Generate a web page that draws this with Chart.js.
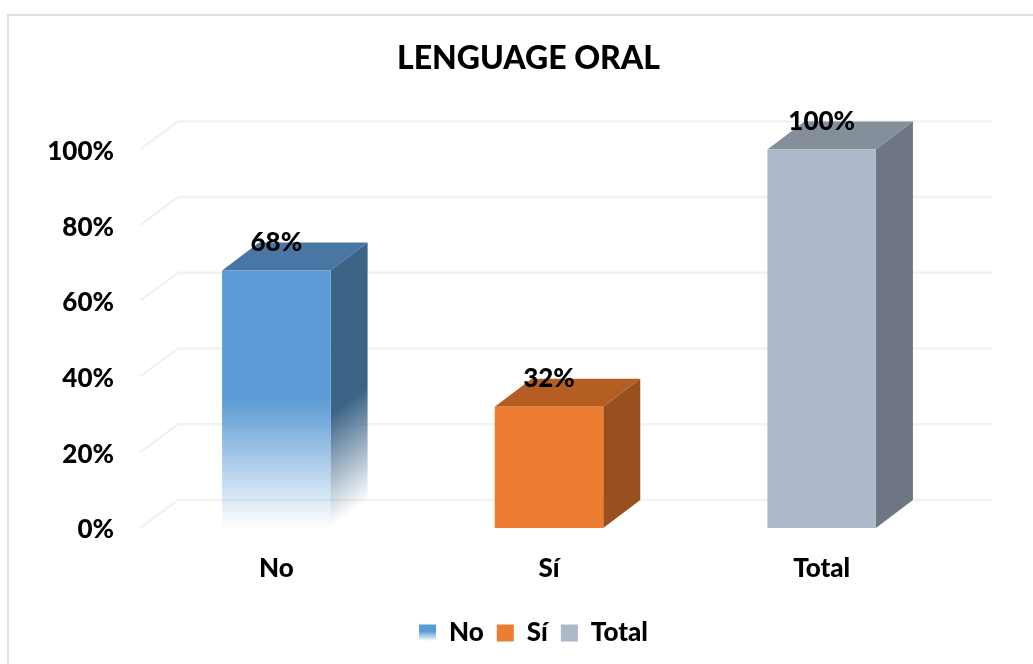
<!DOCTYPE html>
<html>
<head>
<meta charset="utf-8">
<title>Lenguage oral</title>
<script src="https://cdn.jsdelivr.net/npm/chart.js@4"></script>
<style>
    html, body { margin: 0; padding: 0; background: #fff; }
    body { width: 1033px; height: 664px; overflow: hidden; position: relative; }
    #frame { position: absolute; left: 7px; top: 14px; width: 1040px; height: 660px; border: 2px solid #e0e0e0; }
    #graf { position: absolute; left: 0; top: 0; }
</style>
</head>
<body>
<div id="frame"></div>
<canvas id="graf" width="1033" height="664"></canvas>
<script>
const categories = ["No", "Sí", "Total"];
const values = [68, 32, 100];
const yTicks = [0, 20, 40, 60, 80, 100];

const frontColors = ["#5B9BD5", "#ED7D31", "#ADB9CA"];
const topColors = ["#4A76A3", "#B55E24", "#858F9C"];
const sideColors = ["#3C6487", "#98501E", "#6E7683"];

// depth of the fake 3D box
const depthX = 37;
const depthY = -28;
const fontName = "Lato, sans-serif";

function frontFill(context) {
    const chart = context.chart;
    const i = context.dataIndex;
    if (i !== 0 || !chart.chartArea) return frontColors[i];
    const y = chart.scales.y;
    const g = chart.ctx.createLinearGradient(0, y.getPixelForValue(34), 0, y.getPixelForValue(0));
    g.addColorStop(0, "rgba(91,155,213,1)");
    g.addColorStop(1, "rgba(91,155,213,0)");
    return g;
}

const box3d = {
    id: "box3d",
    afterLayout(chart) {
        // legend sits a little right of the middle in the picture
        chart.legend.left += 5;
        chart.legend.right += 5;
    },
    beforeDatasetsDraw(chart) {
        const c = chart.ctx;
        const y = chart.scales.y;
        const a = chart.chartArea;

        // back wall lines and the short diagonals
        c.save();
        c.strokeStyle = "#f2f2f2";
        c.lineWidth = 2.5;
        yTicks.forEach(function(t) {
            const py = y.getPixelForValue(t);
            c.beginPath();
            c.moveTo(a.left, py);
            c.lineTo(a.left + depthX + 1, py + depthY);
            c.lineTo(a.right + depthX - 3, py + depthY);
            c.stroke();
        });

        chart.getDatasetMeta(0).data.forEach(function(bar, i) {
            const half = bar.width / 2;
            const l = bar.x - half;
            const r = bar.x + half;
            const t = bar.y;
            const b = bar.base;

            c.fillStyle = topColors[i];
            c.beginPath();
            c.moveTo(l, t);
            c.lineTo(l + depthX, t + depthY);
            c.lineTo(r + depthX, t + depthY);
            c.lineTo(r, t);
            c.closePath();
            c.fill();

            if (i === 0) {
                const mx = r + depthX / 2;
                const my = b + depthY / 2;
                const g = c.createLinearGradient(mx - 84, my - 111, mx, my);
                g.addColorStop(0, "rgba(60,100,135,1)");
                g.addColorStop(0.35, "rgba(60,100,135,1)");
                g.addColorStop(1, "rgba(60,100,135,0)");
                c.fillStyle = g;
            } else {
                c.fillStyle = sideColors[i];
            }
            c.beginPath();
            c.moveTo(r, t);
            c.lineTo(r + depthX, t + depthY);
            c.lineTo(r + depthX, b + depthY);
            c.lineTo(r, b);
            c.closePath();
            c.fill();
        });
        c.restore();
    },
    afterDatasetsDraw(chart) {
        const c = chart.ctx;
        c.save();
        c.fillStyle = "#000";
        c.font = "900 26px " + fontName;
        c.textAlign = "center";
        c.textBaseline = "middle";
        chart.getDatasetMeta(0).data.forEach(function(bar, i) {
            c.fillText(values[i] + "%", bar.x, bar.y + depthY);
        });
        c.restore();
    }
};

document.addEventListener("DOMContentLoaded", function() {
    const ctx = document.getElementById("graf").getContext("2d");
    new Chart(ctx, {
        type: "bar",
        data: {
            labels: categories,
            datasets: [{
                data: values,
                backgroundColor: frontFill,
                barPercentage: 0.398,
                categoryPercentage: 1
            }]
        },
        plugins: [box3d],
        options: {
            responsive: false,
            animation: false,
            layout: { padding: { left: 24, bottom: 8 } },
            scales: {
                x: {
                    grid: { display: false },
                    border: { display: false },
                    ticks: { color: "#000", font: { family: fontName, size: 26, weight: "900" }, padding: 17 },
                    afterFit(s) { s.height = 79; }
                },
                y: {
                    min: 0,
                    max: 100,
                    afterBuildTicks(s) { s.ticks = yTicks.map(function(v) { return { value: v }; }); },
                    grid: { display: false },
                    border: { display: false },
                    ticks: {
                        color: "#000",
                        font: { family: fontName, size: 26, weight: "900" },
                        padding: 18,
                        labelOffset: 2,
                        callback: function(v) { return v + "%"; }
                    },
                    afterFit(s) { s.width = 116; }
                },
                // empty axis, only reserves the room right of the bars
                spacer: {
                    position: "right",
                    display: true,
                    grid: { display: false },
                    border: { display: false },
                    ticks: { display: false },
                    afterFit(s) { s.width = 75; }
                }
            },
            plugins: {
                title: {
                    display: true,
                    text: "LENGUAGE ORAL",
                    color: "#000",
                    font: { family: fontName, size: 32, weight: "900" },
                    padding: { top: 39, bottom: 72 }
                },
                legend: {
                    position: "bottom",
                    labels: {
                        color: "#000",
                        font: { family: fontName, size: 26, weight: "900" },
                        boxWidth: 17,
                        boxHeight: 17,
                        padding: 13,
                        generateLabels(chart) {
                            const g = chart.ctx.createLinearGradient(0, 623, 0, 641);
                            g.addColorStop(0, "#5B9BD5");
                            g.addColorStop(0.45, "#5B9BD5");
                            g.addColorStop(1, "#FFFFFF");
                            return categories.map(function(name, i) {
                                return {
                                    text: name,
                                    fontColor: "#000",
                                    fillStyle: i === 0 ? g : frontColors[i],
                                    lineWidth: 0,
                                    strokeStyle: "rgba(0,0,0,0)",
                                    hidden: false,
                                    index: i
                                };
                            });
                        }
                    }
                },
                tooltip: { enabled: false }
            }
        }
    });
});
</script>
</body>
</html>
